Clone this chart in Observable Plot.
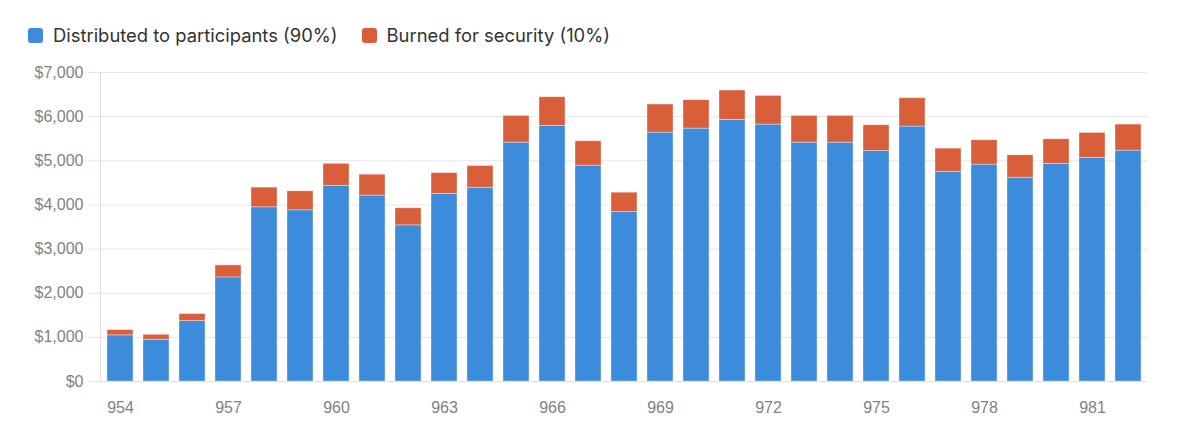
<!DOCTYPE html>
<html>
<head>
<meta charset="utf-8">
<script src="https://cdn.jsdelivr.net/npm/d3@7"></script>
<script src="https://cdn.jsdelivr.net/npm/@observablehq/plot@0.6"></script>
<style>
  html, body { margin: 0; padding: 0; background: #ffffff; }
  #legend {
    height: 60px; box-sizing: border-box; padding: 0 0 0 28px;
    display: flex; align-items: center; gap: 0;
    font-family: Inter, "Noto Sans", sans-serif; font-size: 18.4px; color: #333;
    padding-top: 10px;
  }
  .item { display: flex; align-items: center; margin-right: 24px; }
  .sw { width: 15px; height: 15px; border-radius: 3px; margin-right: 10px; }
  #chart svg { display: block; }
</style>
</head>
<body>
<div id="legend"></div>
<div id="chart"></div>
<script>
const blocks = [954,955,956,957,958,959,960,961,962,963,964,965,966,967,968,969,970,971,972,973,974,975,976,977,978,979,980,981,982];
const distributed = [1045,945,1368,2358,3946,3878,4432,4212,3537,4251,4390,5411,5790,4890,3838,5638,5729,5926,5820,5411,5411,5222,5775,4746,4912,4617,4927,5064,5230];
const burned = [120,113,159,272,446,430,499,473,386,469,492,606,650,552,439,636,643,666,650,606,606,583,643,529,552,507,560,567,590];
const seriesNames = ["Distributed to participants (90%)", "Burned for security (10%)"];
const seriesColors = ["#3d8bdb", "#d95f3b"];
const xTicks = [954,957,960,963,966,969,972,975,978,981];
const yTicks = [0,1000,2000,3000,4000,5000,6000,7000];

const rows = [];
blocks.forEach((b, i) => {
  rows.push({block: b, series: seriesNames[0], value: distributed[i]});
  rows.push({block: b, series: seriesNames[1], value: burned[i]});
});

const legend = document.getElementById("legend");
seriesNames.forEach((n, i) => {
  const it = document.createElement("div");
  it.className = "item";
  const sw = document.createElement("div");
  sw.className = "sw";
  sw.style.background = seriesColors[i];
  const t = document.createElement("span");
  t.textContent = n;
  it.appendChild(sw); it.appendChild(t);
  legend.appendChild(it);
});

const fmt = d3.format("$,");
const chart = Plot.plot({
  width: 1200,
  height: 381,
  marginTop: 12,
  marginBottom: 60,
  marginLeft: 100,
  marginRight: 53,
  style: {fontFamily: "'Liberation Sans', Arial, sans-serif", fontSize: "16px", background: "#ffffff"},
  x: {type: "band", domain: blocks, paddingInner: 0.29, paddingOuter: 0.145, label: null},
  y: {domain: [0, 7000], label: null},
  color: {domain: seriesNames, range: seriesColors},
  marks: [
    Plot.gridY(yTicks, {stroke: "#e6e6e6", strokeOpacity: 1}),
    Plot.frame({anchor: "left", stroke: "#dedede", strokeOpacity: 1}),
    Plot.barY(rows, Plot.stackY({
      x: "block", y: "value", fill: "series", order: seriesNames,
      stroke: "#ffffff", strokeOpacity: 0.45, strokeWidth: 0.8
    })),
    Plot.axisY({ticks: yTicks, tickFormat: fmt, tickSize: 12, tickPadding: 5, stroke: "#e6e6e6", strokeOpacity: 1, fill: "#828282", label: null}),
    Plot.axisX({ticks: xTicks, tickSize: 0, tickPadding: 20, fill: "#828282", label: null}),
    Plot.ruleY([0], {stroke: "#e0e0e0"})
  ]
});
document.getElementById("chart").appendChild(chart);
</script>
</body>
</html>
